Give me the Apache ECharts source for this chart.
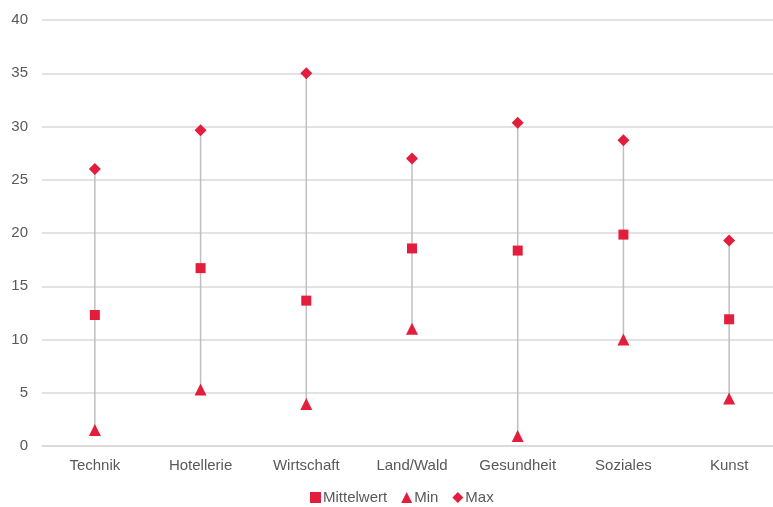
<!DOCTYPE html>
<html>
<head>
<meta charset="utf-8">
<script src="https://cdn.jsdelivr.net/npm/echarts@6/dist/echarts.min.js"></script>
<style>
  html, body { margin: 0; padding: 0; background: #fff; }
  #chart { width: 773px; height: 507px; }
</style>
</head>
<body>
<div id="chart"></div>
<script>
// Kategorien und Kennwerte je Bereich
const categories = ['Technik', 'Hotellerie', 'Wirtschaft', 'Land/Wald', 'Gesundheit', 'Soziales', 'Kunst'];
const meanValues = [12.3, 16.7, 13.65, 18.55, 18.35, 19.85, 11.9];
const minValues  = [1.5, 5.3, 3.95, 11.0, 0.95, 10.0, 4.45];
const maxValues  = [26.0, 29.65, 35.0, 27.0, 30.35, 28.7, 19.3];
const yTicks = [0, 5, 10, 15, 20, 25, 30, 35, 40];

const RED = '#E31D3C';
const TEXT = '#595959';
const FONT = '"Liberation Sans", Arial, sans-serif';

const chart = echarts.init(document.getElementById('chart'), null, { renderer: 'canvas' });

// Spannweiten-Linien (Min bis Max) je Kategorie
const rangeData = categories.map((c, i) => [i, minValues[i], maxValues[i]]);

chart.setOption({
  animation: false,
  textStyle: { fontFamily: FONT },
  // Die Zeichenfläche reicht rechts etwas über den Rand hinaus
  grid: { left: 42, width: 740, top: 20, bottom: 61, containLabel: false, outerBoundsMode: 'none' },
  legend: {
    bottom: -3,
    left: 305,
    itemWidth: 11,
    itemHeight: 11,
    itemGap: 14,
    textStyle: { color: TEXT, fontSize: 15, fontFamily: FONT, padding: [0, 0, 0, -3] },
    data: ['Mittelwert', 'Min', 'Max']
  },
  xAxis: {
    type: 'category',
    data: categories,
    axisTick: { show: false },
    axisLine: { show: true, lineStyle: { color: '#D9D9D9', width: 1.5 } },
    axisLabel: { color: TEXT, fontSize: 15, margin: 12, fontFamily: FONT }
  },
  yAxis: {
    type: 'value',
    min: yTicks[0],
    max: yTicks[yTicks.length - 1],
    interval: 5,
    axisLine: { show: false },
    axisTick: { show: false },
    axisLabel: { color: TEXT, fontSize: 15, margin: 14, fontFamily: FONT },
    splitLine: { lineStyle: { color: '#D9D9D9', width: 1.5 } }
  },
  series: [
    {
      name: 'Spannweite',
      type: 'custom',
      silent: true,
      z: 1,
      renderItem: function (params, api) {
        const p1 = api.coord([api.value(0), api.value(1)]);
        const p2 = api.coord([api.value(0), api.value(2)]);
        return {
          type: 'line',
          shape: { x1: p1[0], y1: p1[1], x2: p2[0], y2: p2[1] },
          style: { stroke: '#BFBFBF', lineWidth: 1.5 }
        };
      },
      encode: { x: 0, y: [1, 2] },
      data: rangeData
    },
    {
      name: 'Mittelwert',
      type: 'scatter',
      symbol: 'rect',
      symbolSize: 10,
      z: 3,
      itemStyle: { color: RED, opacity: 1 },
      data: meanValues
    },
    {
      name: 'Min',
      type: 'scatter',
      symbol: 'triangle',
      symbolSize: 12,
      z: 3,
      itemStyle: { color: RED, opacity: 1 },
      data: minValues
    },
    {
      name: 'Max',
      type: 'scatter',
      symbol: 'diamond',
      symbolSize: 12,
      z: 3,
      itemStyle: { color: RED, opacity: 1 },
      data: maxValues
    }
  ]
});
</script>
</body>
</html>
